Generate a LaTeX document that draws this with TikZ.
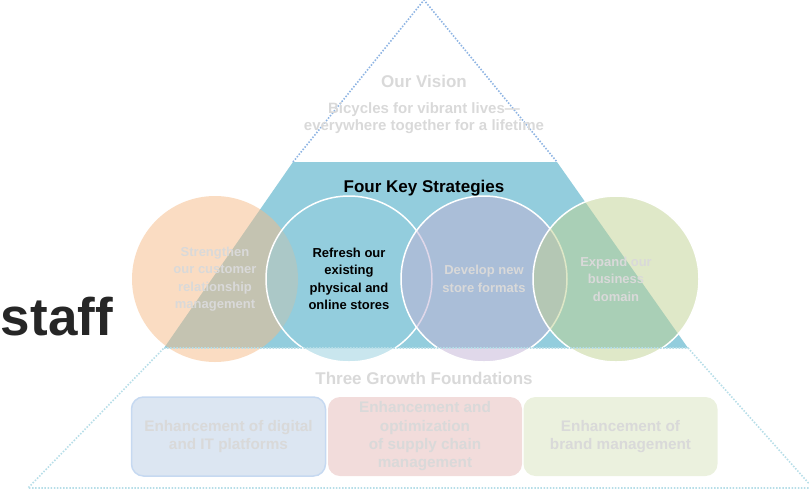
\documentclass[tikz,border=0pt]{standalone}
\usepackage{fontspec}
\setmainfont{Liberation Sans}
\usetikzlibrary{positioning}

\definecolor{trapblue}{RGB}{147,205,221}
\definecolor{dotupper}{RGB}{142,180,227}
\definecolor{dotlower}{RGB}{183,222,232}
\definecolor{textgray}{RGB}{217,217,217}
\definecolor{ringor}{RGB}{245,186,134}
\definecolor{ringpu}{RGB}{193,177,213}
\definecolor{ringgr}{RGB}{191,209,145}
\definecolor{basebl}{RGB}{220,230,242}
\definecolor{baseblline}{RGB}{198,217,241}
\definecolor{baserd}{RGB}{242,220,219}
\definecolor{basegr}{RGB}{235,241,222}

\begin{document}
\begin{tikzpicture}[x=1pt,y=-1pt,
    dots/.style={line width=1.6pt, dash pattern=on 1.5pt off 1.6pt},
    head/.style={font=\fontsize{17}{17}\selectfont\bfseries, text=textgray},
    ring/.style={circle, minimum size=166pt, inner sep=0pt, fill opacity=0.5,
      text opacity=1, align=center, text=textgray,
      font=\fontsize{13}{17.5}\selectfont\bfseries},
    basebox/.style={rounded corners=12pt, minimum width=194pt, minimum height=79pt,
      inner sep=0pt, align=center, text=textgray,
      font=\fontsize{15.3}{18.3}\selectfont\bfseries}]
\useasboundingbox (0,0) rectangle (809,491);

% 背景上的文字
\node[anchor=base east, inner sep=0pt, font=\fontsize{53}{53}\selectfont\bfseries,
  text=black!85] (staff) at (113,335) {staff};

% 三角形上部
\coordinate (apex) at (424,0);
\coordinate (tl) at (293,162);
\coordinate (tr) at (557,162);
\coordinate (ml) at (164,348);
\coordinate (mr) at (688,348);
\coordinate (bl) at (28,488);
\coordinate (br) at (813,488);
\draw[dots, dotupper] (tl) -- (apex) -- (tr);
\fill[trapblue] (tl) -- (tr) -- (mr) -- (ml) -- cycle;

% 四个圆
\node[ring, fill=ringor] (r1) at (215,279)
  {Strengthen\\our customer\\relationship\\management};
\node[ring, fill=trapblue, draw=white, line width=1.5pt, text=black] (r2) at (349,279)
  {Refresh our\\existing\\physical and\\online stores};
\node[ring, fill=ringpu, draw=white, line width=1.5pt] (r3) at (484,279)
  {Develop new\\store formats};
\node[ring, fill=ringgr, draw=white, line width=1.5pt] (r4) at (616,279)
  {Expand our\\business\\domain};

% 三角形下部
\draw[dots, dotlower] (ml) -- (mr) -- (br) -- (bl) -- cycle;

% 标题
\node[head] (vision) at (424,81) {Our Vision};
\node[align=center, text=textgray, font=\fontsize{15}{17.5}\selectfont\bfseries]
  (visiontext) at (424,118) {Bicycles for vibrant lives---\\everywhere together for a lifetime};
\node[head, text=black] (keys) at (424,188) {Four Key Strategies};
\node[head] (found) at (424,378) {Three Growth Foundations};

% 三个基础
\node[basebox, fill=basebl, draw=baseblline, line width=1.5pt] (b1) at (228.5,436.5)
  {Enhancement of digital\\and IT platforms};
\node[basebox, fill=baserd] (b2) at (425,436.5)
  {Enhancement and\\optimization\\of supply chain\\management};
\node[basebox, fill=basegr] (b3) at (620.5,436.5)
  {Enhancement of\\brand management};
\end{tikzpicture}
\end{document}
